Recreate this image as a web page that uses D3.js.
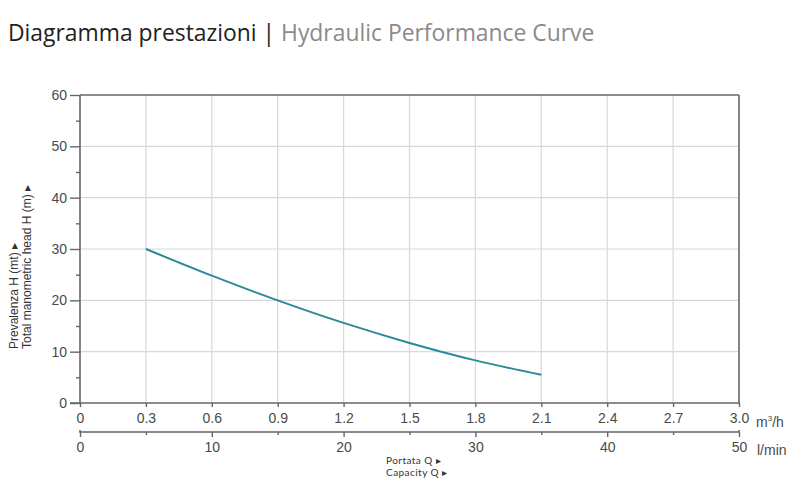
<!DOCTYPE html>
<html><head><meta charset="utf-8">
<script src="https://cdn.jsdelivr.net/npm/d3@7"></script>
<style>
body{margin:0;background:#fff;}
svg{display:block;}
</style></head>
<body>
<svg id="chart" width="799" height="479"></svg>
<script>
// Data
const flowM3h = [0.3, 0.6, 0.9, 1.2, 1.5, 1.8, 2.1];
const headM   = [30, 24.8, 20, 15.6, 11.7, 8.3, 5.5];
const xTicksM3h = [0, 0.3, 0.6, 0.9, 1.2, 1.5, 1.8, 2.1, 2.4, 2.7, 3.0];
const xTicksLmin = [0, 10, 20, 30, 40, 50];
const xMinorLmin = [5, 15, 25, 35, 45];
const yTicks = [0, 10, 20, 30, 40, 50, 60];
const yMinor = [5, 15, 25, 35, 45, 55];

const svg = d3.select("#chart");
const L = 80, R = 739, T = 95, B = 403;
const x = d3.scaleLinear().domain([0, 3.0]).range([L, R]);
const xl = d3.scaleLinear().domain([0, 50]).range([L, R]);
const y = d3.scaleLinear().domain([0, 60]).range([B, T]);

// Title
const title = svg.append("text").attr("x", 8).attr("y", 41)
  .attr("font-family", "'Open Sans', sans-serif").attr("font-size", 21);
title.append("tspan").attr("fill", "#222").text("Diagramma prestazioni | ");
title.append("tspan").attr("fill", "#8a8a8a").text("Hydraulic Performance Curve");
const tw = title.node().getComputedTextLength();
title.attr("font-size", 21 * 587 / tw);

const font = "Liberation Sans, Arial, sans-serif";
const labelCol = "#4a4a4a";
const fs = 14;

// grid
svg.append("g").selectAll("line").data(xTicksM3h.slice(1, -1)).join("line")
  .attr("x1", d => x(d)).attr("x2", d => x(d)).attr("y1", T).attr("y2", B)
  .attr("stroke", "#d8d8d8").attr("stroke-width", 1.2);
svg.append("g").selectAll("line").data(yTicks.slice(1, -1)).join("line")
  .attr("x1", L).attr("x2", R).attr("y1", d => y(d)).attr("y2", d => y(d))
  .attr("stroke", "#d8d8d8").attr("stroke-width", 1.2);

// frame top/right
svg.append("line").attr("x1", L).attr("x2", R).attr("y1", T).attr("y2", T).attr("stroke", "#666").attr("stroke-width", 1.6);
svg.append("line").attr("x1", R).attr("x2", R).attr("y1", T).attr("y2", B).attr("stroke", "#666").attr("stroke-width", 1.6);

// y axis
const yAxis = svg.append("g").attr("transform", `translate(${L},0)`)
  .call(d3.axisLeft(y).tickValues(yTicks).tickSize(10).tickPadding(3).tickFormat(d3.format("d")));
svg.append("g").attr("transform", `translate(${L},0)`)
  .call(d3.axisLeft(y).tickValues(yMinor).tickSize(4).tickFormat(""))
  .call(g => g.select(".domain").remove());

// x axis m3/h
const xAxis = svg.append("g").attr("transform", `translate(0,${B})`)
  .call(d3.axisBottom(x).tickValues(xTicksM3h).tickSize(4).tickPadding(6)
    .tickFormat(d => d === 0 ? "0" : d3.format(".1f")(d)));

// x axis l/min
const xAxis2 = svg.append("g").attr("transform", `translate(0,432)`)
  .call(d3.axisBottom(xl).tickValues(xTicksLmin).tickSize(5).tickPadding(5).tickFormat(d3.format("d")));
svg.append("g").attr("transform", `translate(0,432)`)
  .call(d3.axisBottom(xl).tickValues(xMinorLmin).tickSize(3).tickFormat(""))
  .call(g => g.select(".domain").remove());

svg.selectAll(".domain").attr("stroke", "#666").attr("stroke-width", 1.6);
svg.selectAll(".tick line").attr("stroke", "#666").attr("stroke-width", 1.4);
svg.selectAll(".tick text").attr("font-family", font).attr("font-size", fs).attr("fill", labelCol);
yAxis.selectAll(".domain").attr("d", `M0,${T}V${B}`);
xAxis.select(".domain").attr("d", `M${L - 10},0H${R}`);
xAxis2.select(".domain").attr("d", `M${L},-2V0H${R}V-2`);

// units
svg.append("text").attr("x", 756).attr("y", 427).attr("font-family", font).attr("font-size", fs).attr("fill", labelCol)
  .html("m<tspan dy='-6' font-size='8'>3</tspan><tspan dy='6'>/h</tspan>");
svg.append("text").attr("x", 757).attr("y", 455).attr("font-family", font).attr("font-size", fs).attr("fill", labelCol)
  .text("l/min");

// curve
svg.append("path").datum(flowM3h.map((f, i) => [f, headM[i]]))
  .attr("fill", "none").attr("stroke", "#2b8a98").attr("stroke-width", 2)
  .attr("d", d3.line().x(d => x(d[0])).y(d => y(d[1])).curve(d3.curveMonotoneX));

// y axis titles
const yt = svg.append("text").attr("transform", "translate(18,349) rotate(-90)")
  .attr("font-family", font).attr("font-size", 12).attr("fill", "#333");
yt.append("tspan").attr("x", 0).attr("y", 0).text("Prevalenza H (mt) \u25B8");
yt.append("tspan").attr("x", 0).attr("y", 12.5).text("Total manometric head H (m) \u25B8");

// x axis titles
const xtStyle = t => t.attr("font-family", "Lato, 'Open Sans', sans-serif").attr("font-size", 10)
  .attr("letter-spacing", 0.45).attr("fill", "#333");
svg.append("text").call(xtStyle).attr("x", 386).attr("y", 464).text("Portata Q \u25B8");
svg.append("text").call(xtStyle).attr("x", 386).attr("y", 476).text("Capacity Q \u25B8");
</script>
</body></html>
